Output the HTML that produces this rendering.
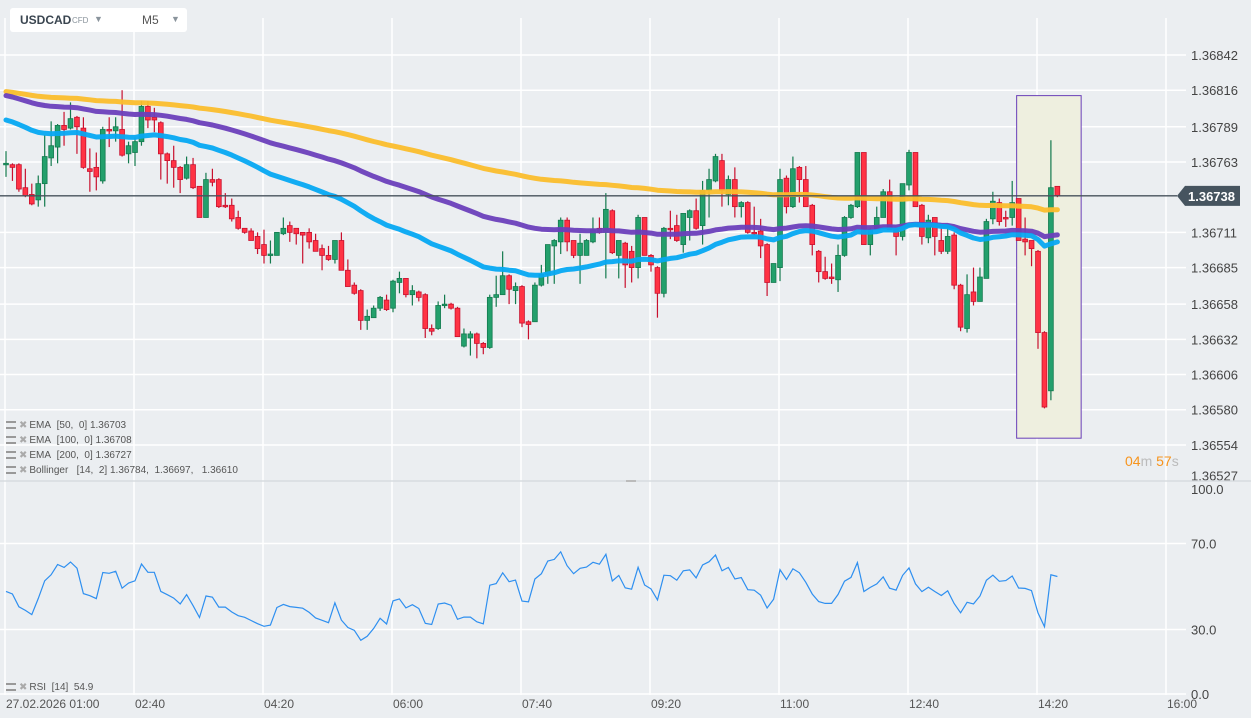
<!DOCTYPE html>
<html><head><meta charset="utf-8">
<style>
body{margin:0;width:1251px;height:718px;background:#ebeef1;overflow:hidden;font-family:"Liberation Sans",sans-serif;position:relative}
svg{position:absolute;left:0;top:0}
.tb{position:absolute;left:10px;top:8px;width:177px;height:24px;background:#fff;border-radius:3px}
.leg{position:absolute;left:6px;font-size:10px;color:#555;white-space:nowrap;line-height:12px}
.ic{display:inline-block;width:10px;height:8px;border-top:2px solid #999;border-bottom:2px solid #999;box-sizing:border-box;margin-right:3px;vertical-align:-1px;position:relative}
.x{color:#aaa;font-size:10px;margin-right:2px}
</style></head><body>
<svg id="chart" width="1251" height="718"></svg>
<div class="tb">
 <span style="position:absolute;left:10px;top:5px;font-size:12px;font-weight:bold;color:#3a4550">USDCAD</span>
 <span style="position:absolute;left:62px;top:8px;font-size:8px;color:#8a949c">CFD</span>
 <span style="position:absolute;left:84px;top:6px;font-size:9px;color:#8a949c">▼</span>
 <span style="position:absolute;left:132px;top:5px;font-size:12px;color:#555">M5</span>
 <span style="position:absolute;left:161px;top:6px;font-size:9px;color:#8a949c">▼</span>
</div>
<div class="leg" style="top:420px"><span class="ic"></span><span class="x">✖</span>EMA&nbsp; [50,&nbsp; 0] 1.36703</div>
<div class="leg" style="top:435px"><span class="ic"></span><span class="x">✖</span>EMA&nbsp; [100,&nbsp; 0] 1.36708</div>
<div class="leg" style="top:450px"><span class="ic"></span><span class="x">✖</span>EMA&nbsp; [200,&nbsp; 0] 1.36727</div>
<div class="leg" style="top:465px"><span class="ic"></span><span class="x">✖</span>Bollinger&nbsp;&nbsp; [14,&nbsp; 2] 1.36784,&nbsp; 1.36697,&nbsp;&nbsp; 1.36610</div>
<div class="leg" style="top:682px"><span class="ic"></span><span class="x">✖</span>RSI&nbsp; [14]&nbsp; 54.9</div>
<div style="position:absolute;left:1125px;top:453px;font-size:14px;color:#f7941d">04<span style="color:#bbb">m</span> 57<span style="color:#bbb">s</span></div>
<script>
// OHLC in units of 0.00001 above 1.36000
const opens=[761,761,761,744,739,735,747,766,774,790,788,796,788,758,759,749,787,786,787,769,770,778,804,796,792,769,764,759,751,761,745,722,750,750,731,731,722,714,712,708,702,694,694,710,716,714,711,711,705,699,694,691,705,683,672,668,646,648,655,661,655,674,677,665,667,665,640,640,657,658,655,627,633,636,629,626,663,665,679,668,671,645,645,672,680,701,704,720,705,694,694,704,714,711,727,694,703,697,685,722,694,685,666,714,716,702,722,727,716,742,749,764,739,750,730,733,711,712,702,674,685,751,730,759,750,731,697,682,678,676,694,722,730,770,702,713,722,741,713,708,746,770,731,707,722,705,697,709,672,640,667,660,677,721,733,722,722,736,706,705,697,637,594,745];
const closes=[762,759,743,738,732,747,767,775,790,787,795,789,759,756,752,787,786,789,768,775,778,804,794,794,769,764,759,750,761,744,722,750,748,730,730,721,714,711,705,699,694,695,711,714,711,710,709,704,697,694,691,705,683,671,666,646,649,655,663,654,675,677,665,668,663,640,638,657,658,655,634,636,636,629,626,663,665,679,669,671,644,643,672,680,702,705,720,704,694,703,705,713,711,728,696,705,687,685,722,694,687,666,714,713,705,725,727,714,742,750,767,742,750,730,733,711,710,701,674,688,750,730,758,750,730,702,682,677,677,694,722,731,770,702,713,722,741,713,708,747,770,730,708,720,708,697,708,672,641,665,660,678,719,734,719,721,733,705,704,699,637,582,744,738];
const highs=[771,762,762,758,747,753,783,793,791,800,807,797,796,773,770,789,796,796,816,778,781,808,808,803,793,770,775,760,767,766,745,755,758,751,740,736,727,714,714,711,713,705,711,722,719,714,711,714,710,702,701,705,711,691,674,669,654,657,664,665,676,682,677,672,668,666,643,660,665,659,656,640,638,637,630,665,679,697,680,674,672,646,674,687,702,706,722,722,705,710,706,722,722,740,728,705,704,701,724,722,695,686,715,727,724,725,728,736,749,758,769,769,753,759,734,734,730,721,703,688,758,753,767,760,760,732,698,693,688,702,723,732,770,770,714,730,743,750,714,747,772,770,732,724,722,714,714,711,673,680,685,685,721,741,736,727,749,736,722,705,698,638,779,745];
const lows=[752,749,741,737,731,730,730,760,762,775,787,769,758,741,742,747,774,778,767,762,760,775,788,785,750,747,744,740,750,743,722,722,745,729,729,719,713,710,705,695,688,688,694,709,704,702,688,699,697,683,690,688,683,671,665,639,639,648,653,653,652,666,663,657,660,633,635,639,655,654,634,626,620,618,621,625,656,665,658,658,641,632,645,671,673,673,695,697,692,673,694,703,710,677,695,677,670,674,677,694,682,648,663,706,704,696,705,713,702,722,748,730,731,722,722,710,709,692,664,674,675,725,729,733,730,694,674,676,673,667,693,721,729,702,694,713,722,713,694,705,742,730,702,703,694,695,695,669,638,637,657,660,677,717,716,715,716,705,694,686,625,581,587,737];
const emaPeriods=[50,100,200];
const emaSeeds=[794,812,815];
const rsiSeed=[4.2,4.6]; // initial avg gain / avg loss
const priceTicks=[842,816,789,763,711,685,658,632,606,580,554,527];
const priceTickLabels=["1.36842","1.36816","1.36789","1.36763","1.36711","1.36685","1.36658","1.36632","1.36606","1.36580","1.36554","1.36527"];
const timeTickIdx=[0,20,40,60,80,100,120,140,160,180];
const timeTickLabels=["27.02.2026  01:00","02:40","04:20","06:00","07:40","09:20","11:00","12:40","14:20","16:00"];
const rsiTicks=[100,70,30,0];
const rsiTickLabels=["100.0","70.0","30.0","0.0"];
const currentPrice=738;
const highlightFrom=157, highlightTo=167, highlightHi=812, highlightLo=559;

const NS="http://www.w3.org/2000/svg";
const svg=document.getElementById('chart');
const xC=i=>6+6.45*i;
const yP=v=>55+(842-v)*1.354;
const yR=r=>694-2.15*r;
function mk(t,a,parent){const e=document.createElementNS(NS,t);for(const k in a)e.setAttribute(k,a[k]);(parent||svg).appendChild(e);return e;}

// grid
timeTickIdx.forEach((ti,j)=>{
  const x=xC(ti)-1;
  const g=mk('line',{x1:x,x2:x,y1:18,y2:695,stroke:'#fff','stroke-width':1.5});
  
  
  const t=mk('text',{x:x+1,y:708,'font-size':12,fill:'#555','font-family':'Liberation Sans, sans-serif'});
  t.textContent=timeTickLabels[j];
  
  
});
priceTicks.forEach((v,j)=>{
  const y=yP(v);
  const last=(j===priceTicks.length-1);
  if(!last){const g=mk('line',{x1:0,x2:1186,y1:y,y2:y,stroke:'#fff','stroke-width':1.5});
  
  }
  const t=mk('text',{x:1191,y:last?y-1:y+5,'font-size':13,fill:'#444','font-family':'Liberation Sans, sans-serif'});
  t.textContent=priceTickLabels[j];
  
  
});
const sep=mk('line',{x1:0,x2:1251,y1:481,y2:481,stroke:'#d8dce0','stroke-width':1.5});


mk('rect',{x:626,y:480,width:10,height:2,fill:'#bbb'});
rsiTicks.forEach((r,j)=>{
  const y=yR(r);
  if(r!==100){const g=mk('line',{x1:0,x2:1186,y1:y,y2:y,stroke:'#fff','stroke-width':1.5});
  
  }
  const t=mk('text',{x:1191,y:(r===100?494:y+5),'font-size':13,fill:'#444','font-family':'Liberation Sans, sans-serif'});
  t.textContent=rsiTickLabels[j];
  
  
});

// highlight box
const hb=mk('rect',{x:xC(highlightFrom)-2,y:yP(highlightHi),width:xC(highlightTo)-xC(highlightFrom),height:yP(highlightLo)-yP(highlightHi),fill:'#eeefdf',stroke:'#6a3fb8','stroke-width':1});



// candles
for(let i=0;i<closes.length;i++){
  const up=closes[i]>=opens[i];
  const x=xC(i);
  const wc=up?'#137a4e':'#c8102e';
  const w=mk('line',{x1:x,x2:x,y1:yP(highs[i]),y2:yP(lows[i]),stroke:wc,'stroke-width':1.2});
  
  
  const top=yP(Math.max(opens[i],closes[i])),bot=yP(Math.min(opens[i],closes[i]));
  const b=mk('rect',{x:x-2.4,y:top,width:4.8,height:Math.max(1.5,bot-top),fill:up?'#23a06c':'#ff3344',stroke:wc,'stroke-width':0.8});
  
  
}

// EMAs
const emaColors=['#06a8f2','#6b3fbb','#fbbd2c'];
const emaNames=['ema-50-line','ema-100-line','ema-200-line'];
[2,1,0].forEach(j=>{
  const k=2/(emaPeriods[j]+1);let e=emaSeeds[j];let pts=[];
  for(let i=0;i<closes.length;i++){ if(i>0) e=e+k*(closes[i]-e); pts.push(xC(i).toFixed(1)+','+yP(e).toFixed(1)); }
  const p=mk('polyline',{points:pts.join(' '),fill:'none',stroke:emaColors[j],'stroke-width':5,'stroke-linejoin':'round','stroke-linecap':'round','opacity':0.95});
  
  
});

// current price line & tag
const cy=yP(currentPrice);
const cl=mk('line',{x1:0,x2:1177,y1:cy,y2:cy,stroke:'#47525c','stroke-width':1.3});


const tag=mk('polygon',{points:`1177,${cy} 1185,${cy-10} 1240,${cy-10} 1240,${cy+10} 1185,${cy+10}`,fill:'#46545f'});


const tt=mk('text',{x:1188,y:cy+5,'font-size':13,'font-weight':'bold',fill:'#fff','font-family':'Liberation Sans, sans-serif'});
tt.textContent='1.36738';



// RSI
let ag=rsiSeed[0],al=rsiSeed[1];let rp=[];
for(let i=0;i<closes.length;i++){
  if(i>0){const d=closes[i]-closes[i-1];ag=(ag*13+Math.max(d,0))/14;al=(al*13+Math.max(-d,0))/14;}
  const r=100-100/(1+ag/al);
  rp.push(xC(i).toFixed(1)+','+yR(r).toFixed(1));
}
const rl=mk('polyline',{points:rp.join(' '),fill:'none',stroke:'#2e8ff0','stroke-width':1.2});


</script>
</body></html>
